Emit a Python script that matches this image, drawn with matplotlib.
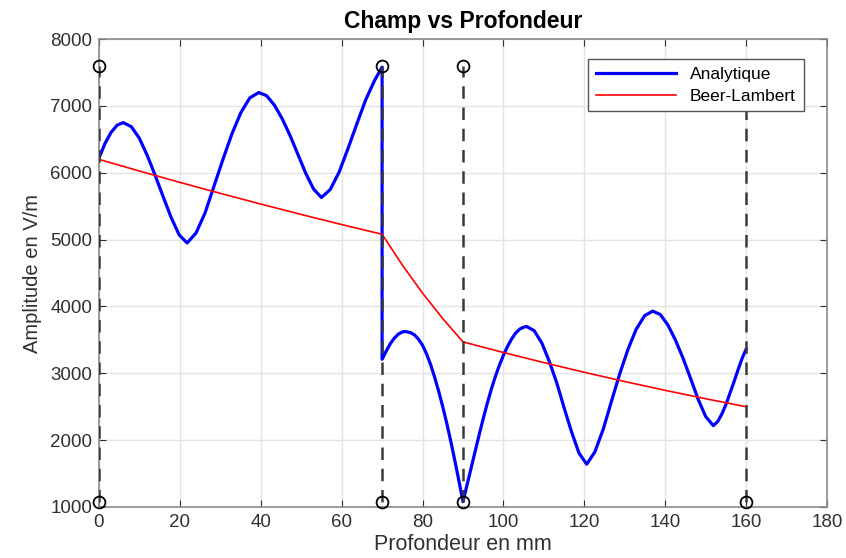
import matplotlib.pyplot as plt

plt.rcParams['font.family'] = ['Liberation Sans', 'DejaVu Sans']

# Analytique
x_ana = [0, 1.5, 3, 4.5, 6,
         7.98, 9.95, 11.93, 13.9, 15.88, 17.85, 19.83, 21.8,
         24.01, 26.23, 28.44, 30.65, 32.86, 35.08, 37.29, 39.5,
         41.44, 43.38, 45.31, 47.25, 49.19, 51.13, 53.06, 55,
         57.19, 59.38, 61.56, 63.75, 65.94, 68.13, 70,
         70, 71, 72, 73, 74, 75, 75.7, 77, 78, 79, 80, 81, 82, 83, 84, 85,
         86, 87, 88, 89, 90,
         91, 92, 93, 94, 95, 96, 97, 98, 99, 100, 101, 102, 103, 104, 105, 105.75,
         107.6, 109.5, 111.3, 113.2, 115.0, 116.9, 118.7, 120.6,
         122.6, 124.7, 126.7, 128.75, 130.8, 132.8, 134.9, 136.9,
         138.8, 140.65, 142.5, 144.4, 146.3, 148.15, 150.0, 151.9,
         153, 154, 155, 156, 157, 158, 159, 160]
y_ana = [6220, 6440, 6605, 6713, 6750,
         6690, 6520, 6260, 5960, 5640, 5330, 5070, 4950,
         5100, 5400, 5800, 6200, 6580, 6900, 7120, 7200,
         7153, 7012, 6807, 6556, 6274, 5991, 5756, 5630,
         5750, 6010, 6360, 6730, 7090, 7380, 7580,
         3210, 3330, 3440, 3525, 3585, 3618, 3625, 3610, 3575, 3510, 3420, 3290,
         3130, 2940, 2730, 2500, 2250, 1980, 1690, 1390, 1080,
         1330, 1580, 1830, 2080, 2320, 2550, 2760, 2950, 3120, 3270, 3400, 3510,
         3600, 3660, 3690, 3700,
         3638, 3453, 3185, 2855, 2485, 2114, 1805, 1640,
         1823, 2167, 2579, 2991, 3358, 3655, 3861, 3930,
         3879, 3724, 3502, 3228, 2919, 2611, 2354, 2217,
         2280, 2390, 2530, 2700, 2870, 3050, 3220, 3360]

# Beer-Lambert
x_bl = [0, 10, 20, 30, 40, 50, 60, 70, 75, 80, 85, 90,
        100, 110, 120, 130, 140, 150, 160]
y_bl = [6200, 6026, 5856, 5692, 5532, 5376, 5225, 5080, 4620, 4200, 3818, 3470,
        3311, 3160, 3015, 2877, 2745, 2620, 2500]

# interfaces
x_int = [0, 70, 90, 160]
y_lo, y_hi = 1080, 7600

fig = plt.figure(figsize=(8.46, 5.58), dpi=100)
ax = fig.add_axes([0.117, 0.0914, 0.8605, 0.8386])

for xi in x_int:
    ax.plot([xi, xi], [y_lo, y_hi], '--', color='#3a3a3a', lw=1.8,
            dashes=(5, 3.5), zorder=3)
    ax.plot([xi, xi], [y_lo, y_hi], 'o', color='black', mfc='none',
            ms=8.5, mew=1.3, zorder=4, clip_on=False)

ax.plot(x_ana, y_ana, color='blue', lw=2.3, label='Analytique', zorder=2,
        solid_joinstyle='round')
ax.plot(x_bl, y_bl, color='red', lw=1.2, label='Beer-Lambert', zorder=2)

ax.set_xlim(0, 180)
ax.set_ylim(1000, 8000)
ax.set_xticks(range(0, 181, 20))
ax.set_yticks(range(1000, 8001, 1000))
ax.grid(True, color='#e3e3e3', lw=1.0)
ax.set_axisbelow(True)
ax.tick_params(direction='in', top=True, right=True, length=5,
               labelsize=13.5, colors='#303030', labelcolor='#303030', pad=5)
for s in ax.spines.values():
    s.set_color('#8a8a8a')
    s.set_linewidth(1.2)

ax.set_title('Champ vs Profondeur', fontsize=16.5, fontweight='bold', pad=8)
ax.set_xlabel('Profondeur en mm', fontsize=15.5, color='#303030', labelpad=2)
ax.set_ylabel('Amplitude en V/m', fontsize=14.5, color='#303030', labelpad=6)

leg = ax.legend(loc='upper right', bbox_to_anchor=(0.98, 0.975), fontsize=12.5,
                fancybox=False, framealpha=1, edgecolor='#555555',
                handlelength=4.6, borderpad=0.45, labelspacing=0.35)
leg.set_zorder(10)

fig.savefig('out.png', dpi=100)
